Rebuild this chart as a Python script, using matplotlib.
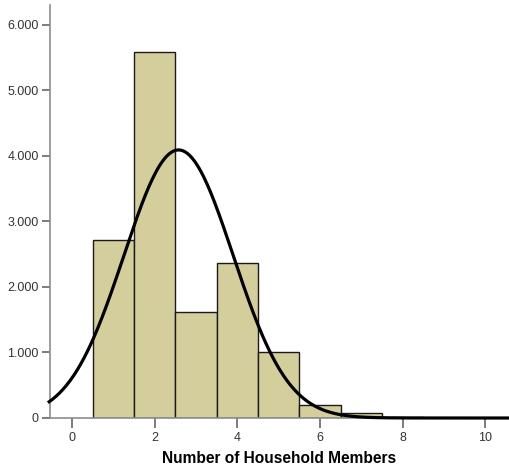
import numpy as np
import matplotlib
matplotlib.use("Agg")
import matplotlib.pyplot as plt
from matplotlib.ticker import FuncFormatter

plt.rcParams['font.family'] = ['Liberation Sans', 'DejaVu Sans']

members = [1, 2, 3, 4, 5, 6, 7, 8, 9, 10]
counts = [2710, 5580, 1613, 2360, 1005, 198, 70, 8, 3, 1]
x_ticks = [0, 2, 4, 6, 8, 10]
y_ticks = [0, 1000, 2000, 3000, 4000, 5000, 6000]
xlabel = "Number of Household Members"

fig = plt.figure(figsize=(5.1, 4.7), dpi=100)
ax = fig.add_axes([50/510, 52/470, 458/510, 413/470])

ax.bar(members, counts, width=1.0, color='#D3CE9C', edgecolor='#1a1a1a', linewidth=1.0, zorder=2)

vals = np.array(members, dtype=float)
w = np.array(counts, dtype=float)
n = w.sum()
mu = (vals * w).sum() / n
sd = np.sqrt((w * (vals - mu) ** 2).sum() / (n - 1))
xs = np.linspace(-0.55, 10.6, 400)
ys = n * 1.0 / (sd * np.sqrt(2 * np.pi)) * np.exp(-0.5 * ((xs - mu) / sd) ** 2)
ax.plot(xs, ys, color='black', linewidth=2.3, zorder=4, clip_on=False)

ax.set_xlim(-0.53, 10.55)
ax.set_ylim(0, 6300)
ax.set_xticks(x_ticks)
ax.set_yticks(y_ticks)
ax.yaxis.set_major_formatter(FuncFormatter(lambda v, p: f"{int(v):,}".replace(',', '.')))

for s in ['top', 'right']:
    ax.spines[s].set_visible(False)
for s in ['left', 'bottom']:
    ax.spines[s].set_color('#8c8c8c')
    ax.spines[s].set_linewidth(1.2)
ax.spines['bottom'].set_zorder(3)

ax.tick_params(axis='y', direction='out', length=6, width=1.2, color='#666666', labelsize=9, labelcolor='#333333', pad=2)
ax.tick_params(axis='x', direction='out', length=7, width=1.2, color='#666666', labelsize=9, labelcolor='#333333', pad=3)

ax.set_xlabel(xlabel, fontsize=11.2, fontweight='bold', labelpad=5)

fig.savefig("out.png", dpi=100)
